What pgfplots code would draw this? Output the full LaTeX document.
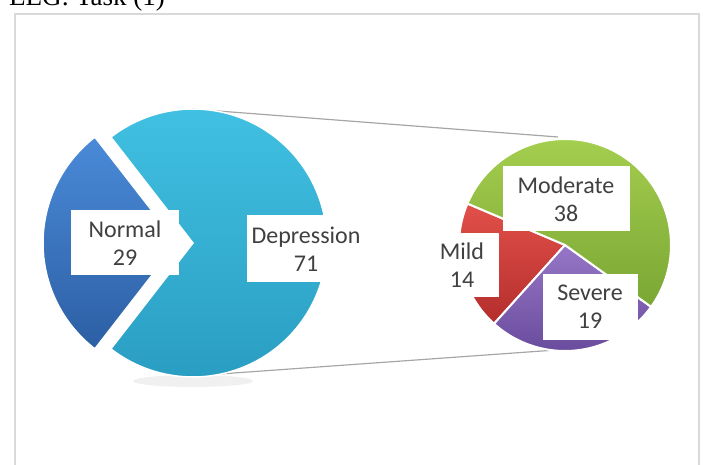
\documentclass[border=0pt]{standalone}
\usepackage{pgfplots}
\pgfplotsset{compat=1.18}
\usepackage{fontspec}
\setmainfont{Carlito}
\newfontfamily\titlefont{Liberation Serif}
\definecolor{txt}{HTML}{404040}
\definecolor{frame}{HTML}{D9D9D9}
\definecolor{conn}{HTML}{A6A6A6}
\definecolor{nTop}{HTML}{4A8AD8}\definecolor{nBot}{HTML}{2C5FA4}
\definecolor{dTop}{HTML}{40C0E2}\definecolor{dBot}{HTML}{2A9EC2}
\definecolor{gTop}{HTML}{A4CE4E}\definecolor{gBot}{HTML}{7AA634}
\definecolor{rTop}{HTML}{E2504A}\definecolor{rBot}{HTML}{B42E2C}
\definecolor{pTop}{HTML}{9676C6}\definecolor{pBot}{HTML}{6A4C9E}
\begin{document}
\begin{tikzpicture}[x=1pt,y=1pt]
\useasboundingbox (0,0) rectangle (703,465);
% data
\def\vNormal{29}\def\vDep{71}
\def\vMild{14}\def\vMod{38}\def\vSev{19}
\pgfmathsetmacro\aN{\vNormal/(\vNormal+\vDep)*360}
\pgfmathsetmacro\nS{180-\aN/2}
\pgfmathsetmacro\nE{180+\aN/2}
\pgfmathsetmacro\dS{\nE-360}
\pgfmathsetmacro\tot{\vMild+\vMod+\vSev}
\def\st{157}
\pgfmathsetmacro\mE{\st+\vMild/\tot*360}
\pgfmathsetmacro\sE{\mE+\vSev/\tot*360}
\pgfmathsetmacro\oE{\st+360}
\begin{axis}[at={(0,0)}, anchor=south west, width=703pt, height=465pt,
  scale only axis, xmin=0, xmax=703, ymin=0, ymax=465, hide axis, clip=false]
% soft shadow under left pie
\fill[black, opacity=0.06] (axis cs:193,84) ellipse [x radius=60, y radius=6];
% connector lines
\addplot[conn, line width=1.2pt] coordinates {(192,356) (558,328)};
\addplot[conn, line width=1.2pt] coordinates {(192,89) (556,115)};
% left pie
\addplot[draw=white, line width=1.5pt, top color=nTop, bottom color=nBot,
  domain=\nS:\nE, samples=60, variable=\t]
  ({177+134*cos(t)},{222+134*sin(t)}) -- (axis cs:177,222) -- cycle;
\addplot[draw=white, line width=1.5pt, top color=dTop, bottom color=dBot,
  domain=\dS:\nS, samples=120, variable=\t]
  ({193+134*cos(t)},{222+134*sin(t)}) -- (axis cs:193,222) -- cycle;
% right pie
\addplot[draw=white, line width=2pt, top color=rTop, bottom color=rBot,
  domain=\st:\mE, samples=40, variable=\t]
  ({565+106*cos(t)},{220+106*sin(t)}) -- (axis cs:565,220) -- cycle;
\addplot[draw=white, line width=2pt, top color=pTop, bottom color=pBot,
  domain=\mE:\sE, samples=50, variable=\t]
  ({565+106*cos(t)},{220+106*sin(t)}) -- (axis cs:565,220) -- cycle;
\addplot[draw=white, line width=2pt, top color=gTop, bottom color=gBot,
  domain=\sE:\oE, samples=90, variable=\t]
  ({565+106*cos(t)},{220+106*sin(t)}) -- (axis cs:565,220) -- cycle;
% labels
\tikzset{lab/.style={fill=white, text=txt, align=center, inner sep=0pt,
  font=\fontsize{24}{28}\selectfont}}
\node[lab, minimum width=108pt, minimum height=65pt] at (axis cs:125,222) {Normal\\29};
\node[lab, minimum width=119pt, minimum height=67pt] at (axis cs:306,216) {Depression\\71};
\node[lab, minimum width=127pt, minimum height=65pt] at (axis cs:566,266) {Moderate\\38};
\node[lab, minimum width=74pt, minimum height=64pt] at (axis cs:462,200) {Mild\\14};
\node[lab, minimum width=95pt, minimum height=66pt] at (axis cs:590,158) {Severe\\19};
% frame and clipped title
\draw[frame, line width=2pt] (axis cs:15,-20) -- (axis cs:15,451) -- (axis cs:699,451) -- (axis cs:699,-20);
\node[anchor=base west, inner sep=0pt, font=\titlefont\fontsize{27}{30}\selectfont] at (axis cs:9,459.5) {EEG: Task (1)};
\end{axis}
\end{tikzpicture}
\end{document}
